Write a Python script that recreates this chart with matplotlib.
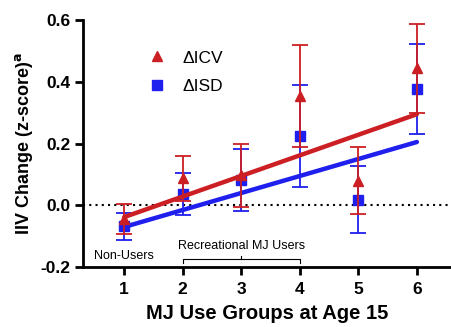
import matplotlib
matplotlib.use("Agg")
import matplotlib.pyplot as plt
from matplotlib.lines import Line2D
import numpy as np

plt.rcParams["font.family"] = ["Liberation Sans", "DejaVu Sans"]

groups = [1, 2, 3, 4, 5, 6]
icv_mean = [-0.044, 0.087, 0.097, 0.355, 0.080, 0.443]
icv_err = [0.048, 0.073, 0.101, 0.165, 0.108, 0.145]
isd_mean = [-0.068, 0.037, 0.083, 0.224, 0.018, 0.377]
isd_err = [0.043, 0.068, 0.100, 0.164, 0.108, 0.145]

# fitted trend lines, read at group 1 and group 6
fit_x = [1, 6]
icv_fit = [-0.038, 0.295]
isd_fit = [-0.070, 0.205]

red = "#cc1f24"
blue = "#1f1fee"

fig = plt.figure(figsize=(4.52, 3.27), dpi=100)
ax = fig.add_axes([0.184, 0.183, 0.816, 0.756])

ax.axhline(0, color="black", linestyle=(0, (1, 2)), linewidth=1.5, zorder=1)

ax.errorbar(groups, isd_mean, yerr=isd_err, fmt="none", ecolor=blue, elinewidth=1.3,
            capsize=6, capthick=1.3, zorder=2)
ax.plot(fit_x, isd_fit, color=blue, linewidth=3.2, solid_capstyle="round", zorder=3)
ax.plot(groups, isd_mean, "s", color=blue, markersize=6.5, zorder=4)

ax.errorbar(groups, icv_mean, yerr=icv_err, fmt="none", ecolor=red, elinewidth=1.3,
            capsize=6, capthick=1.3, zorder=5)
ax.plot(fit_x, icv_fit, color=red, linewidth=3.2, solid_capstyle="round", zorder=6)
ax.plot(groups, icv_mean, "^", color=red, markersize=7, zorder=7)

ax.set_xlim(0.3, 6.6)
ax.set_ylim(-0.2, 0.6)
ax.set_xticks(groups)
ax.set_yticks([-0.2, 0.0, 0.2, 0.4, 0.6])
ax.set_yticklabels(["-0.2", "0.0", "0.2", "0.4", "0.6"])
for lab in ax.get_xticklabels() + ax.get_yticklabels():
    lab.set_fontweight("bold")
    lab.set_fontsize(12.5)
ax.tick_params(width=2, length=6)
ax.tick_params(axis="x", pad=5)
ax.tick_params(axis="y", pad=3)
ax.spines["top"].set_visible(False)
ax.spines["right"].set_visible(False)
ax.spines["left"].set_linewidth(2)
ax.spines["bottom"].set_linewidth(2)

ax.set_xlabel("MJ Use Groups at Age 15", fontsize=14.5, fontweight="bold", labelpad=5)
ax.set_ylabel(r"IIV Change (z-score)$^{\mathbf{a}}$", fontsize=13, fontweight="bold", labelpad=4)

# group annotations
ax.text(1, -0.165, "Non-Users", ha="center", va="center", fontsize=9)
ax.text(3, -0.13, "Recreational MJ Users", ha="center", va="center", fontsize=9)
ax.plot([2, 2, 4, 4], [-0.187, -0.175, -0.175, -0.187], color="black", linewidth=0.8)
ax.plot([3, 3], [-0.175, -0.163], color="black", linewidth=0.8)

handles = [
    Line2D([], [], marker="^", color=red, linestyle="none", markersize=7),
    Line2D([], [], marker="s", color=blue, linestyle="none", markersize=6.5),
]
ax.legend(handles, ["ΔICV", "ΔISD"], loc="upper left", bbox_to_anchor=(0.11, 0.94),
          frameon=False, fontsize=12.5, handletextpad=0.5, labelspacing=0.75)

plt.savefig("out.png", dpi=100)
